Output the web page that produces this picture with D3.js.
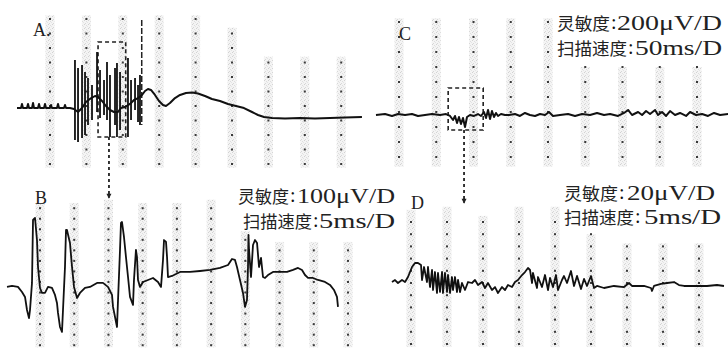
<!DOCTYPE html>
<html><head><meta charset="utf-8">
<script src="https://cdn.jsdelivr.net/npm/d3@7/dist/d3.min.js"></script>
<style>body{margin:0;background:#fff}svg{display:block}</style>
</head><body><svg id="c" width="728" height="353"></svg>
<script>
// ---------------- DATA ----------------
// Panel A: slow wave (time ms, amplitude µV), 50 ms/D, 200 µV/D
const traceA_t = [4.7,10.2,11.5,12.9,18.4,19.8,21.2,25.3,26.7,28.0,33.5,34.9,36.3,41.8,43.1,44.5,50.0,51.4,52.7,59.6,61.0,62.4,69.2,70.6,72.0,77.5,83.0,88.5,94.0,99.4,104.9,111.8,115.9,121.4,126.9,132.4,137.9,143.4,147.5,153.0,159.9,165.4,170.9,176.4,180.5,184.6,188.7,194.2,199.7,205.2,209.3,214.8,221.7,228.6,236.8,245.1,253.3,262.9,272.5,283.5,294.5,305.5,316.5,327.5,335.7,344.0,355.0,372.8,393.4,414.0,434.6,455.2,478.5];
const traceA_v = [-28,-28,28,-28,-28,28,-28,-28,41,-28,-28,28,-28,-28,28,-28,-28,14,-28,-28,28,-28,-28,14,-28,-28,-41,-83,-28,55,97,138,124,69,0,-55,-83,-83,-28,-14,28,83,110,152,207,234,221,152,69,14,0,41,110,152,179,186,172,138,97,69,28,0,-28,-83,-124,-152,-166,-172,-166,-172,-166,-159,-152];
// Panel A: burst of spikes (time ms, peak µV, trough µV)
const spikesA_t    = [84.3,88.5,94.0,98.1,102.2,107.7,114.6,118.7,124.2,128.3,132.4,139.3,142.0,146.2,157.1,161.3,166.8,170.9,173.6];
const spikesA_up   = [634,524,565,469,386,290,745,496,359,607,427,524,593,469,662,359,386,290,427];
const spikesA_down = [-469,-496,-441,-400,-262,-193,-83,-165,-124,-193,-427,-262,-427,-331,-427,-193,-55,-221,-262];
const windowA = [116, 154, -427, 883];   // t0, t1, vLow, vHigh (dashed box)
const markerA = [176, 1186, -262];       // t, vTop, vBottom (dashed cursor)
const linkA_t = 131;

// Panel C: 50 ms/D, 200 µV/D
const traceC_t = [19.1,31.2,40.6,48.7,58.1,67.4,75.5,84.9,94.3,105.0,113.1,118.5,122.5,125.2,127.9,130.5,133.2,135.9,138.6,141.3,145.3,150.7,156.0,160.1,164.1,166.8,169.5,172.2,174.8,177.5,180.2,182.9,186.9,192.3,197.7,205.7,212.4,219.1,225.8,232.6,239.3,246.0,251.3,256.7,266.1,276.9,286.3,295.7,306.4,315.8,325.2,333.3,344.0,352.1,357.5,362.8,370.9,376.3,381.6,387.0,393.7,397.7,403.1,408.5,413.8,420.5,427.2,435.3,440.7,448.7,456.8,464.8,472.9,481.0,491.7];
const traceC_v = [-40,-27,-53,-27,-40,-27,-53,-40,-27,-40,-27,-53,-107,-53,-147,-67,-160,-80,-200,-67,-40,-53,-27,-53,0,-80,27,-93,13,-67,-13,-53,-27,-40,-40,-27,-53,-13,-40,-53,-27,-40,0,-53,-40,-27,-53,-27,-40,-13,-40,-27,-53,-13,27,-40,0,-40,13,-27,27,-40,0,-53,13,-40,-13,-53,0,-40,-27,-53,-13,-40,-27];
const windowC = [116, 163, -240, 320];
const linkC_t = 137.3;

// Panel B: 5 ms/D, 100 µV/D
const traceB_t = [0.18,0.91,1.78,2.37,2.81,3.10,3.39,3.54,3.83,3.98,4.27,4.56,4.71,5.00,5.29,5.73,6.17,6.75,7.19,7.48,7.63,7.92,8.21,8.36,8.65,8.80,8.94,9.38,9.68,9.97,10.41,10.84,11.57,12.30,13.33,14.20,14.93,15.52,15.67,15.96,16.25,16.40,16.69,16.83,16.98,17.27,17.56,17.86,18.15,18.59,18.73,19.02,19.17,19.32,19.61,20.05,20.78,21.51,22.24,22.68,22.97,23.12,23.41,23.56,23.70,24.29,25.46,26.92,28.38,29.84,31.30,32.47,33.05,33.49,33.78,34.22,34.66,34.95,35.24,35.39,35.46,35.54,35.83,36.12,36.41,36.71,37.00,37.29,37.58,37.88,38.31,39.04,40.07,41.09,41.97,42.70,43.28,43.72,44.16,44.89,45.62,46.64,47.37,47.95,48.39,48.54];
const traceB_v = [-47,-38,-47,-95,-142,-266,-342,-266,-9,588,607,398,142,-57,-104,-104,-47,-57,-123,-199,-294,-427,-474,-266,142,493,493,370,142,-47,-152,-104,-57,-47,-9,-9,-47,-123,-237,-332,-427,-171,304,560,569,427,237,47,-142,-218,19,304,237,19,-47,0,19,38,0,-47,209,398,380,237,47,57,95,95,104,114,133,161,218,209,142,19,-104,-237,-171,142,446,304,47,351,398,370,142,228,47,38,66,95,95,95,114,133,114,66,38,38,19,0,-28,-76,-142,-237];

// Panel D: 5 ms/D, 20 µV/D
const traceD_t = [2.36,2.78,3.19,3.75,4.17,4.58,5.14,5.56,5.97,6.39,6.53,6.81,7.22,7.36,7.64,7.92,8.06,8.33,8.61,8.75,9.03,9.31,9.44,9.72,10.00,10.14,10.42,10.69,10.83,11.11,11.39,11.53,11.81,12.08,12.50,12.92,13.47,13.89,14.31,14.86,15.28,15.69,16.25,16.67,17.08,17.64,18.06,18.47,19.03,19.44,19.86,20.42,20.83,21.25,21.53,21.81,21.94,22.50,22.64,23.19,23.61,24.03,24.31,24.72,25.14,25.42,25.97,26.25,26.67,27.22,27.64,28.06,28.61,29.03,29.44,30.00,30.42,30.83,31.81,33.19,34.58,35.28,35.69,37.36,38.33,38.47,38.75,39.72,40.56,41.53,42.22,42.92,44.72,46.11,47.50,48.47];
const traceD_v = [1.6,4.9,0,4.9,1.6,9.8,26.2,32.8,32.8,29.5,4.9,26.2,1.6,26.2,-6.6,21.3,-11.5,18.0,-16.4,16.4,-14.8,18.0,-16.4,16.4,-14.8,13.1,-16.4,9.8,-11.5,9.8,-14.8,4.9,-14.8,0,-11.5,1.6,0,4.9,-3.3,1.6,-8.2,0,-11.5,-6.6,-16.4,-6.6,-11.5,-3.3,-6.6,1.6,4.9,13.1,18.0,24.6,21.3,0,16.4,-8.2,9.8,-6.6,13.1,-11.5,8.2,-6.6,13.1,-11.5,4.9,11.5,0,19.7,-4.9,11.5,-9.8,6.6,-4.9,11.5,-8.2,-4.9,-8.2,-4.9,-6.6,0,-4.9,-4.9,-8.2,-13.1,-4.9,-1.6,0,1.6,-3.3,-4.9,-4.9,-4.9,-3.3,-4.9];

// Grid columns (time) and their upper extents (amplitude)
const colsA = [50,100,150,200,250,300,350,400,450];
const colTopA = [1250,1250,1250,1250,1250,1080,680,680,680];
const rowsA = [1200,1000,800,600,400,200,0,-200,-400,-600,-800];
const colsC = [50,100,150,200,250,300,350,400,450];
const colTopC = [1250,1250,1250,1250,1250,600,600,600,600];
const rowsC = [1200,1000,800,600,400,200,0,-200,-400,-600];
const colsB = [5,10,15,20,25,30,35,40,45,50];
const colTopB = [750,750,780,750,750,780,480,380,380,380];
const rowsB = [700,600,500,400,300,200,100,0,-100,-200,-300,-400,-500,-600];
const colsD = [5,10,15,20,25,30,35,40,45];
const colTopD = [120,125,110,125,125,80,65,65,65];
const rowsD = [100,80,60,40,20,0,-20,-40,-60,-80,-100];

const panelLetters = ["A.", "B", "C", "D"];
const sensLabels = ["灵敏度", "灵敏度", "灵敏度"];
const sensValues = ["200μV/D", "100μV/D", "20μV/D"];
const speedLabels = ["扫描速度", "扫描速度", "扫描速度"];
const speedValues = ["50ms/D", "5ms/D", "5ms/D"];

// ---------------- SCALES ----------------
const xA = d3.scaleLinear().domain([0, 500]).range([13.6, 377.6]);
const yA = d3.scaleLinear().domain([-800, 1200]).range([164, 19]);
const xC = d3.scaleLinear().domain([0, 500]).range([361.75, 734.25]);
const yC = d3.scaleLinear().domain([-600, 1200]).range([157, 22]);
const xB = d3.scaleLinear().domain([0, 50]).range([5.78, 348.0]);
const yB = d3.scaleLinear().domain([-600, 700]).range([345.2, 208.2]);
const xD = d3.scaleLinear().domain([0, 50]).range([375, 735]);
const yD = d3.scaleLinear().domain([-100, 100]).range([344, 222]);

const svg = d3.select("#c");
svg.append("rect").attr("width",728).attr("height",353).attr("fill","#fff");
const defs = svg.append("defs");
const pat = defs.append("pattern").attr("id","stip").attr("width",4).attr("height",4).attr("patternUnits","userSpaceOnUse");
pat.append("rect").attr("width",4).attr("height",4).attr("fill","#f4f4f4");
pat.append("rect").attr("x",0).attr("y",0).attr("width",1).attr("height",1).attr("fill","#d2d2d2");
pat.append("rect").attr("x",2).attr("y",1).attr("width",1).attr("height",1).attr("fill","#dedede");
pat.append("rect").attr("x",1).attr("y",3).attr("width",1).attr("height",1).attr("fill","#d8d8d8");
pat.append("rect").attr("x",3).attr("y",2).attr("width",1).attr("height",1).attr("fill","#e4e4e4");

function drawGrid(x, y, cols, tops, bottom, rows) {
  const g = svg.append("g");
  cols.forEach((c, i) => {
    const top = y(tops[i]), bot = y(bottom);
    g.append("rect").attr("x", x(c) - 4.5).attr("y", top).attr("width", 9)
      .attr("height", bot - top).attr("fill", "url(#stip)");
    rows.filter(r => y(r) >= top && y(r) <= bot).forEach(r => {
      g.append("rect").attr("x", x(c) - 1).attr("y", y(r) - 1)
        .attr("width", 2).attr("height", 2).attr("fill", "#3a3a3a");
    });
  });
}
drawGrid(xA, yA, colsA, colTopA, -850, rowsA);
drawGrid(xC, yC, colsC, colTopC, -730, rowsC);
drawGrid(xB, yB, colsB, colTopB, -620, rowsB);
drawGrid(xD, yD, colsD, colTopD, -105, rowsD);

function drawTrace(x, y, ts, vs, w) {
  const line = d3.line().x(d => x(d[0])).y(d => y(d[1]));
  svg.append("path").datum(ts.map((t, i) => [t, vs[i]]))
    .attr("d", line).attr("fill", "none").attr("stroke", "#111")
    .attr("stroke-width", w).attr("stroke-linejoin", "round");
}

// Dashed annotations (under traces)
function dashedBox(x, y, w) {
  svg.append("rect").attr("x", x(w[0])).attr("y", y(w[3]))
    .attr("width", x(w[1]) - x(w[0])).attr("height", y(w[2]) - y(w[3]))
    .attr("fill", "none").attr("stroke", "#222").attr("stroke-width", 1.6)
    .attr("stroke-dasharray", "4,3");
}
dashedBox(xA, yA, windowA);
dashedBox(xC, yC, windowC);
svg.append("line").attr("x1", xA(markerA[0])).attr("x2", xA(markerA[0]))
  .attr("y1", yA(markerA[1])).attr("y2", yA(markerA[2]))
  .attr("stroke", "#222").attr("stroke-width", 1.5).attr("stroke-dasharray", "6,2");
// connectors from zoom windows down to the enlarged panels
function connector(xp, y1, y2) {
  svg.append("line").attr("x1", xp).attr("x2", xp).attr("y1", y1).attr("y2", y2)
    .attr("stroke", "#222").attr("stroke-width", 1.8).attr("stroke-dasharray", "3,3");
  svg.append("path").attr("d", `M${xp-2.5},${y2-4}L${xp+2.5},${y2-4}L${xp},${y2+1}Z`).attr("fill", "#222");
}
connector(xA(linkA_t), yA(windowA[2]), yB(780) - 2);
connector(xC(linkC_t), yC(windowC[2]), yD(125) - 4);

drawTrace(xA, yA, traceA_t, traceA_v, 2);
svg.append("g").selectAll("line").data(spikesA_t).join("line")
  .attr("x1", d => xA(d)).attr("x2", d => xA(d))
  .attr("y1", (d, i) => yA(spikesA_up[i])).attr("y2", (d, i) => yA(spikesA_down[i]))
  .attr("stroke", "#111").attr("stroke-width", 1.8);
drawTrace(xC, yC, traceC_t, traceC_v, 2);
drawTrace(xB, yB, traceB_t, traceB_v, 1.8);
drawTrace(xD, yD, traceD_t, traceD_v, 1.8);

// ---------------- TEXT ----------------
const serif = "'Liberation Serif','DejaVu Serif',serif";
const cjk = "'Noto Sans CJK SC','Noto Sans CJK JP',sans-serif";
function letter(txt, x, y) {
  svg.append("text").attr("x", x).attr("y", y).attr("font-family", serif)
    .attr("font-size", 18).attr("fill", "#222").text(txt);
}
letter(panelLetters[0], 33, 36);
letter(panelLetters[1], 35, 204);
letter(panelLetters[2], 399, 40);
letter(panelLetters[3], 411, 209);

function infoLine(x, base, zh, zhW, latin, latX, latW) {
  svg.append("text").attr("x", x).attr("y", base).attr("font-family", cjk)
    .attr("font-size", 17).attr("fill", "#222")
    .attr("textLength", zhW).attr("lengthAdjust", "spacingAndGlyphs").text(zh);
  svg.append("text").attr("x", x + zhW + 1).attr("y", base - 1).attr("font-family", serif)
    .attr("font-size", 20).attr("fill", "#111").text(":");
  svg.append("text").attr("x", latX).attr("y", base).attr("font-family", serif)
    .attr("font-size", 20.5).attr("fill", "#222")
    .attr("textLength", latW).attr("lengthAdjust", "spacingAndGlyphs").text(latin);
}
// C
infoLine(557, 30, sensLabels[0], 53, sensValues[0], 617, 105);
infoLine(557, 55, speedLabels[0], 70, speedValues[0], 635, 87);
// B
infoLine(238, 203, sensLabels[1], 51, sensValues[1], 297, 98);
infoLine(243, 228, speedLabels[1], 69, speedValues[1], 319, 76);
// D
infoLine(564, 200, sensLabels[2], 54, sensValues[2], 627, 88);
infoLine(564, 224, speedLabels[2], 70, speedValues[2], 644, 77);
</script></body></html>
